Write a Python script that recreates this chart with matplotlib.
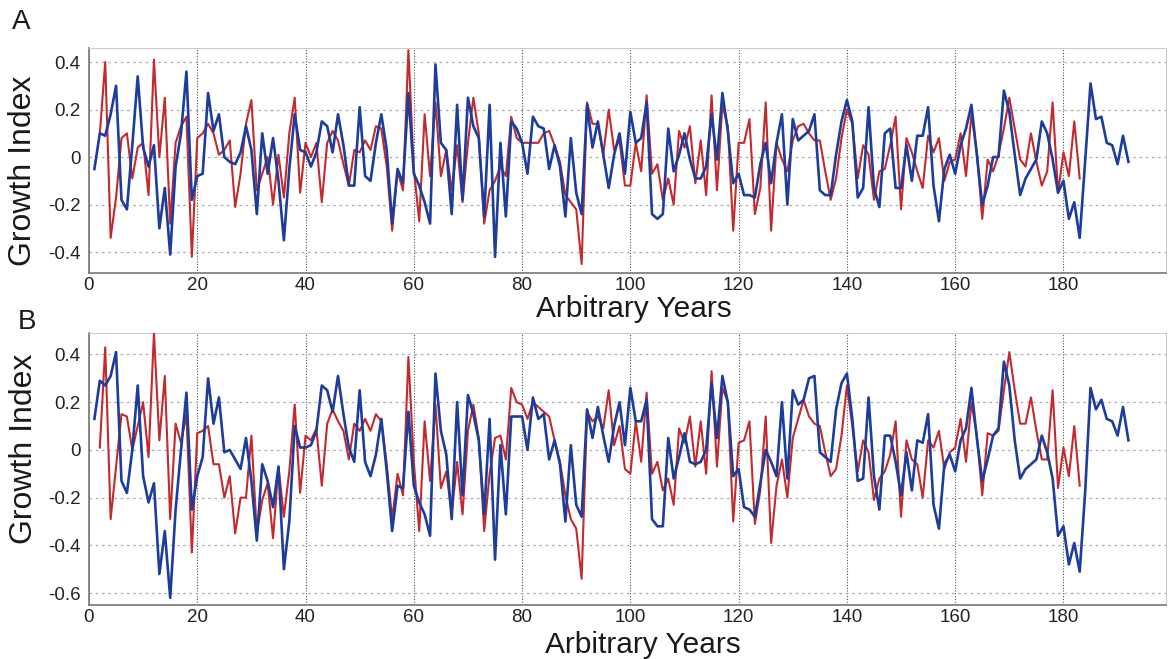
import matplotlib
matplotlib.use("Agg")
import matplotlib.pyplot as plt
import numpy as np

plt.rcParams['font.family'] = ['Liberation Sans', 'DejaVu Sans']

# Panel A series (year 1.. for blue, year 2.. for red)
a_blue = [-0.05, 0.10, 0.09, 0.18, 0.30, -0.18, -0.22, 0.05, 0.34, 0.04,
          -0.04, 0.05, -0.30, -0.13, -0.41, -0.04, 0.10, 0.36, -0.18, -0.08,
          -0.07, 0.27, 0.11, 0.18, 0.00, -0.02, -0.03, 0.02, 0.13, 0.03,
          -0.24, 0.10, -0.07, 0.08, -0.10, -0.35, -0.05, 0.18, 0.03, 0.02,
          -0.04, 0.02, 0.15, 0.13, 0.02, 0.18, 0.05, -0.12, -0.12, 0.21,
          -0.08, -0.10, 0.06, 0.18, 0.03, -0.28, -0.05, -0.11, 0.27, -0.07,
          -0.12, -0.19, -0.28, 0.39, 0.06, 0.03, -0.24, 0.22, -0.18, 0.25,
          0.13, 0.08, -0.25, 0.22, -0.42, 0.06, -0.25, 0.15, 0.12, 0.06,
          -0.07, 0.17, 0.13, 0.12, -0.05, 0.05, -0.04, -0.25, 0.08, -0.15,
          -0.24, 0.22, 0.04, 0.15, 0.01, -0.13, 0.01, 0.10, -0.07, 0.19,
          0.06, 0.08, 0.23, -0.24, -0.26, -0.24, 0.12, -0.06, 0.01, 0.10,
          -0.01, -0.09, -0.09, -0.04, 0.18, -0.01, 0.27, 0.11, -0.11, -0.07,
          -0.16, -0.16, -0.17, -0.03, 0.06, -0.11, 0.06, 0.18, -0.20, 0.16,
          0.07, 0.09, 0.11, 0.18, -0.14, -0.16, -0.16, 0.01, 0.15, 0.24,
          0.15, -0.17, -0.13, 0.21, -0.13, -0.21, 0.10, 0.12, -0.13, -0.13,
          0.05, -0.10, 0.09, 0.09, 0.21, -0.12, -0.27, -0.05, 0.01, -0.07,
          0.05, 0.12, 0.22, 0.01, -0.20, -0.12, 0.00, 0.00, 0.28, 0.19,
          0.01, -0.16, -0.09, -0.05, -0.01, 0.15, 0.10, -0.01, -0.15, -0.10,
          -0.26, -0.19, -0.34, -0.02, 0.31, 0.16, 0.17, 0.06, 0.05, -0.03,
          0.09, -0.02]
a_red = [0.10, 0.40, -0.34, -0.17, 0.08, 0.10, -0.09, 0.04, 0.06, -0.16,
         0.41, 0.00, 0.25, -0.28, 0.06, 0.13, 0.17, -0.42, 0.08, 0.10,
         0.14, 0.10, 0.01, 0.03, 0.07, -0.21, -0.07, 0.14, 0.24, -0.14,
         -0.07, 0.00, -0.20, 0.01, -0.17, 0.10, 0.25, -0.15, 0.06, 0.00,
         0.06, -0.19, 0.06, 0.11, 0.07, -0.03, -0.12, 0.03, 0.02, 0.07,
         0.03, 0.13, 0.12, -0.04, -0.31, -0.06, -0.14, 0.45, -0.05, -0.27,
         0.18, -0.08, 0.23, -0.08, 0.03, -0.14, 0.05, -0.19, 0.06, 0.25,
         0.10, -0.28, -0.14, -0.10, -0.04, -0.08, 0.17, 0.08, 0.06, 0.06,
         0.06, 0.06, 0.10, 0.11, 0.05, -0.02, -0.16, -0.19, -0.22, -0.45,
         0.23, 0.14, 0.14, 0.01, 0.20, 0.03, 0.07, -0.12, -0.12, 0.06,
         -0.06, 0.26, -0.07, -0.03, -0.18, -0.09, -0.20, 0.11, 0.04, 0.13,
         -0.11, 0.07, -0.16, 0.26, -0.14, 0.22, 0.13, -0.31, 0.06, 0.06,
         0.16, -0.24, -0.13, 0.23, -0.31, 0.06, -0.01, -0.06, 0.07, 0.13,
         0.14, 0.10, 0.07, 0.07, -0.06, -0.18, -0.09, 0.08, 0.20, 0.14,
         -0.09, 0.05, 0.01, -0.18, -0.06, -0.05, 0.05, 0.17, -0.22, 0.08,
         0.02, -0.06, -0.13, 0.09, 0.02, 0.08, -0.10, -0.02, -0.01, 0.10,
         -0.08, 0.18, 0.02, -0.26, -0.01, -0.06, 0.01, 0.12, 0.25, 0.12,
         -0.01, -0.04, 0.10, -0.02, -0.12, -0.06, 0.23, -0.15, 0.02, -0.08,
         0.15, -0.09]

# Panel B series
b_blue = [0.13, 0.29, 0.27, 0.31, 0.41, -0.13, -0.18, 0.00, 0.27, -0.11,
          -0.22, -0.14, -0.52, -0.34, -0.62, -0.25, 0.00, 0.24, -0.25, -0.11,
          -0.03, 0.30, 0.11, 0.22, -0.01, 0.00, -0.04, -0.08, 0.05, -0.13,
          -0.38, -0.06, -0.13, -0.24, -0.07, -0.50, -0.30, 0.10, 0.01, 0.01,
          0.02, 0.08, 0.27, 0.25, 0.16, 0.31, 0.15, 0.01, -0.05, 0.25,
          -0.05, -0.11, -0.02, 0.13, -0.09, -0.34, -0.15, -0.16, 0.16, -0.15,
          -0.22, -0.27, -0.36, 0.32, 0.08, -0.02, -0.29, 0.20, -0.19, 0.23,
          0.15, 0.04, -0.27, 0.13, -0.46, 0.02, -0.27, 0.14, 0.14, 0.14,
          0.00, 0.22, 0.13, 0.15, -0.04, 0.04, -0.06, -0.30, 0.02, -0.23,
          -0.28, 0.17, 0.05, 0.18, 0.06, -0.05, 0.10, 0.20, 0.02, 0.26,
          0.12, 0.12, 0.21, -0.29, -0.32, -0.32, 0.05, -0.12, -0.03, 0.07,
          -0.05, -0.06, -0.05, 0.00, 0.28, 0.05, 0.31, 0.20, -0.11, -0.08,
          -0.24, -0.25, -0.28, -0.14, 0.00, -0.05, -0.11, 0.20, -0.12, 0.25,
          0.19, 0.21, 0.30, 0.31, -0.01, -0.03, -0.05, 0.17, 0.28, 0.32,
          0.13, -0.13, -0.12, 0.22, -0.11, -0.25, 0.06, 0.06, -0.05, -0.19,
          -0.01, -0.17, 0.04, 0.03, 0.15, -0.23, -0.33, -0.06, -0.02, -0.09,
          0.04, 0.09, 0.26, 0.05, -0.13, -0.04, 0.06, 0.09, 0.37, 0.27,
          0.04, -0.12, -0.08, -0.06, -0.04, 0.06, -0.01, -0.12, -0.36, -0.32,
          -0.48, -0.39, -0.51, -0.18, 0.26, 0.17, 0.21, 0.13, 0.12, 0.06,
          0.18, 0.04]
b_red = [0.01, 0.43, -0.29, -0.07, 0.15, 0.14, 0.00, 0.10, 0.20, -0.03,
         0.49, 0.04, 0.31, -0.29, 0.11, 0.03, 0.15, -0.43, 0.07, 0.08,
         0.10, -0.06, -0.06, -0.20, -0.11, -0.35, -0.20, -0.20, 0.06, -0.35,
         -0.21, -0.14, -0.37, -0.07, -0.28, -0.09, 0.19, -0.18, 0.06, 0.04,
         0.09, -0.15, 0.11, 0.17, 0.12, 0.08, -0.04, 0.11, 0.08, 0.13,
         0.08, 0.15, 0.12, -0.06, -0.29, -0.10, -0.19, 0.39, -0.05, -0.34,
         0.12, -0.13, 0.19, -0.16, -0.09, -0.27, -0.05, -0.27, 0.08, 0.19,
         0.05, -0.34, -0.10, 0.05, 0.06, -0.04, 0.26, 0.20, 0.19, 0.13,
         0.20, 0.18, 0.16, 0.14, 0.04, -0.05, -0.19, -0.29, -0.33, -0.54,
         0.16, 0.12, 0.14, 0.09, 0.25, 0.02, 0.10, -0.08, -0.10, 0.12,
         -0.05, 0.24, -0.10, -0.05, -0.17, -0.12, -0.23, 0.09, 0.03, 0.14,
         -0.07, 0.12, -0.10, 0.33, -0.07, 0.26, 0.20, -0.30, 0.03, 0.04,
         0.12, -0.31, -0.17, 0.14, -0.39, -0.15, -0.04, -0.20, 0.05, 0.13,
         0.21, 0.14, 0.11, 0.10, -0.01, -0.11, -0.08, 0.06, 0.27, 0.10,
         -0.09, 0.04, -0.01, -0.21, -0.12, -0.09, -0.02, 0.12, -0.28, 0.04,
         -0.04, -0.06, -0.20, 0.04, 0.01, 0.08, -0.08, -0.01, 0.01, 0.13,
         -0.05, 0.20, 0.06, -0.19, 0.07, 0.06, 0.08, 0.25, 0.41, 0.25,
         0.11, 0.11, 0.22, 0.08, -0.04, -0.04, 0.25, -0.16, 0.01, -0.11,
         0.10, -0.15]

years_blue = np.arange(1, len(a_blue) + 1)
years_red = np.arange(2, len(a_red) + 2)

xticks = [0, 20, 40, 60, 80, 100, 120, 140, 160, 180]
ticks_a = [-0.4, -0.2, 0, 0.2, 0.4]
ticks_b = [-0.6, -0.4, -0.2, 0, 0.2, 0.4]
RED = '#c22a2e'
BLUE = '#1c3d9c'

fig = plt.figure(figsize=(11.71, 6.59), dpi=100)
ax_a = fig.add_axes([0.076, 0.5857, 0.92, 0.3414])
ax_b = fig.add_axes([0.076, 0.0819, 0.92, 0.4128])


def style_panel(ax, red, blue, yticks, ylim, xlab_pos, ylab_pos):
    ax.plot(years_red, red, color=RED, lw=1.5, zorder=3)
    ax.plot(years_blue, blue, color=BLUE, lw=1.9, zorder=4)
    ax.set_xlim(0, 199)
    ax.set_ylim(*ylim)
    ax.set_xticks(xticks)
    ax.set_yticks(yticks)
    ax.set_yticklabels(['0' if v == 0 else '%g' % v for v in yticks])
    ax.tick_params(length=0, labelsize=13.5, pad=6, colors='#222222')
    ax.tick_params(axis='x', pad=3)
    ax.yaxis.grid(True, linestyle=(0, (2, 3)), color='#aaaaaa', lw=0.9)
    ax.xaxis.grid(True, linestyle=(0, (1, 1.5)), color='#555555', lw=0.8)
    ax.set_axisbelow(True)
    for side in ['top', 'right']:
        ax.spines[side].set_color('#cccccc')
        ax.spines[side].set_linewidth(0.8)
    for side in ['left', 'bottom']:
        ax.spines[side].set_color('#777777')
        ax.spines[side].set_linewidth(1.2)
    ax.set_xlabel('Arbitrary Years', fontsize=21.5, color='#1a1a1a')
    ax.xaxis.set_label_coords(*xlab_pos)
    ax.xaxis.label.set_va('baseline')
    ax.set_ylabel('Growth Index', fontsize=23, color='#1a1a1a')
    ax.yaxis.set_label_coords(*ylab_pos)
    ax.yaxis.label.set_va('center')


style_panel(ax_a, a_red, a_blue, ticks_a, (-0.488, 0.459),
            (0.506, -0.197), (-0.061, 0.453))
style_panel(ax_b, b_red, b_blue, ticks_b, (-0.65, 0.49),
            (0.514, -0.176), (-0.060, 0.575))

fig.text(0.010, 0.966, 'A', fontsize=20, color='#1a1a1a', va='center')
fig.text(0.015, 0.512, 'B', fontsize=20, color='#1a1a1a', va='center')

fig.savefig('out.png', dpi=100)
